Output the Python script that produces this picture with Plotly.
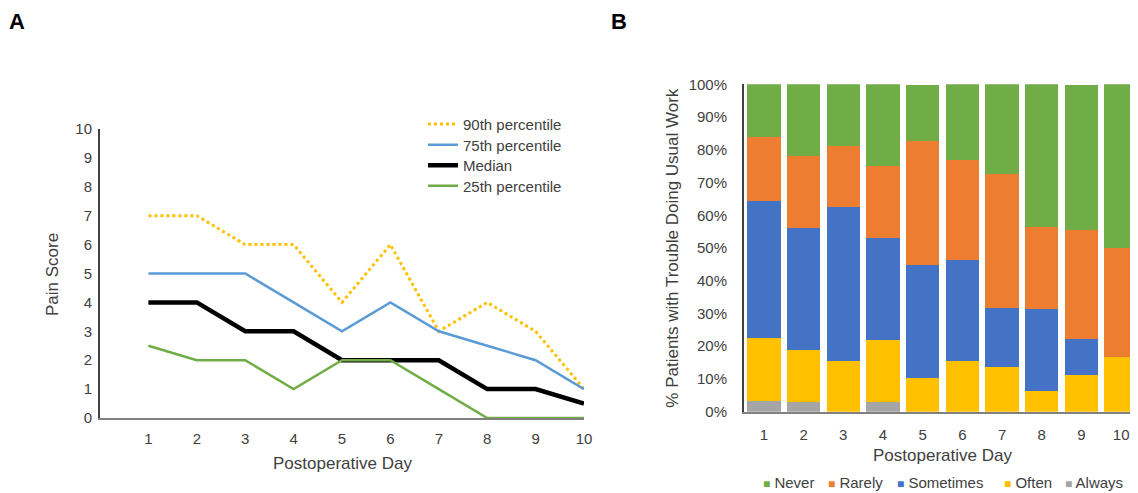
import plotly.graph_objects as go

# ---------------- data ----------------
days = [1, 2, 3, 4, 5, 6, 7, 8, 9, 10]

# Panel A: pain score percentiles
p90 = [7, 7, 6, 6, 4, 6, 3, 4, 3, 1]
p75 = [5, 5, 5, 4, 3, 4, 3, 2.5, 2, 1]
median = [4, 4, 3, 3, 2, 2, 2, 1, 1, 0.5]
p25 = [2.5, 2, 2, 1, 2, 2, 1, 0, 0, 0]

# Panel B: % patients with trouble doing usual work (segment shares, %)
always = [3.2, 3.1, 0, 3.1, 0, 0, 0, 0, 0, 0]
often = [19.4, 15.6, 15.6, 18.8, 10.3, 15.4, 13.6, 6.3, 11.1, 16.7]
sometimes = [41.9, 37.5, 46.9, 31.3, 34.5, 30.8, 18.2, 25.0, 11.1, 0]
rarely = [19.4, 21.9, 18.8, 21.9, 37.9, 30.8, 40.9, 25.0, 33.3, 33.3]
never = [16.1, 21.9, 18.8, 25.0, 17.2, 23.1, 27.3, 43.8, 44.4, 50.0]

# page body has an 8px margin, so the figure starts at (8, 8)
OFF = 8
W, H = 1134, 485
FONT = "Liberation Sans, Arial, sans-serif"
TXT = "#404040"


def px(x):
    return min(max((x - OFF) / W, 0), 1)


def py(y):
    return min(max(1 - (y - OFF) / H, 0), 1)


fig = go.Figure()

# ---------------- panel A ----------------
line_series = [
    ("90th percentile", p90, "#FFC000", 3, "3px,3px", "legend"),
    ("75th percentile", p75, "#5B9BD5", 2.5, "solid", "legend2"),
    ("Median", median, "#000000", 4.5, "solid", "legend3"),
    ("25th percentile", p25, "#70AD47", 2.5, "solid", "legend4"),
]
for name, vals, color, width, dash, leg in line_series:
    fig.add_trace(go.Scatter(
        x=days, y=vals, mode="lines", name=name,
        line=dict(color=color, width=width, dash=dash),
        xaxis="x", yaxis="y", legend=leg, cliponaxis=False,
    ))

# ---------------- panel B ----------------
bar_series = [
    ("Always", always, "#A5A5A5"),
    ("Often", often, "#FFC000"),
    ("Sometimes", sometimes, "#4472C4"),
    ("Rarely", rarely, "#ED7D31"),
    ("Never", never, "#70AD47"),
]
for name, vals, color in bar_series:
    fig.add_trace(go.Bar(
        x=days, y=vals, name=name, marker=dict(color=color, line=dict(width=0)),
        xaxis="x2", yaxis="y2", showlegend=False,
    ))

layout_legends = {}
rowsA = [124.3, 145, 165.5, 186]
for leg, ry in zip(["legend", "legend2", "legend3", "legend4"], rowsA):
    layout_legends[leg] = dict(
        x=px(423), y=py(ry), xanchor="left", yanchor="middle",
        bgcolor="rgba(0,0,0,0)", borderwidth=0,
        font=dict(family=FONT, size=15, color=TXT),
    )

# legend of panel B (compact key, as in the original)
keyB = [("Never", "#70AD47", 762), ("Rarely", "#ED7D31", 827),
        ("Sometimes", "#4472C4", 896), ("Often", "#FFC000", 1003),
        ("Always", "#A5A5A5", 1064)]
key_annots = []
for name, color, x0 in keyB:
    key_annots.append(dict(
        text=f"<span style='color:{color};font-size:12px'>■</span> {name}",
        x=px(x0 - 1), y=py(482), xref="paper", yref="paper", showarrow=False,
        xanchor="left", yanchor="middle",
        font=dict(family=FONT, size=15, color=TXT),
    ))

fig.update_layout(
    width=W, height=H,
    margin=dict(l=0, r=0, t=0, b=0, pad=0, autoexpand=False),
    paper_bgcolor="white", plot_bgcolor="white",
    font=dict(family=FONT, size=15, color=TXT),
    barmode="stack", bargap=0.16,
    showlegend=True,
    xaxis=dict(
        domain=[px(100), px(584)], range=[0, 10],
        tickvals=days, ticktext=[str(d) for d in days],
        showline=True, linecolor="#808080", linewidth=2,
        showgrid=False, zeroline=False,
        ticks="outside", ticklen=6, tickcolor="rgba(0,0,0,0)",
        tickfont=dict(family=FONT, size=15, color=TXT),
        layer="below traces", anchor="y",
    ),
    yaxis=dict(
        domain=[py(418), py(129)], range=[0, 10], dtick=1,
        showline=True, linecolor="#404040", linewidth=2,
        showgrid=False, zeroline=False,
        ticks="outside", ticklen=3, tickcolor="rgba(0,0,0,0)",
        tickfont=dict(family=FONT, size=15, color=TXT),
        layer="below traces", anchor="x",
    ),
    xaxis2=dict(
        domain=[px(744), px(1141)], range=[0.5, 10.5],
        tickvals=days, ticktext=[str(d) for d in days],
        showline=True, linecolor="#808080", linewidth=2,
        showgrid=False, zeroline=False,
        ticks="outside", ticklen=8, tickcolor="rgba(0,0,0,0)",
        tickfont=dict(family=FONT, size=15, color=TXT),
        anchor="y2",
    ),
    yaxis2=dict(
        domain=[py(411.7), py(84.3)], range=[0, 100], dtick=10,
        ticksuffix="%",
        showline=True, linecolor="#404040", linewidth=2,
        showgrid=False, zeroline=False,
        ticks="outside", ticklen=12, tickcolor="rgba(0,0,0,0)",
        tickfont=dict(family=FONT, size=15, color=TXT),
        anchor="x2",
    ),
    annotations=[
        dict(text="<b>A</b>", x=px(16.5), y=1, xref="paper", yref="paper",
             showarrow=False, font=dict(family=FONT, size=22, color="#000000"),
             xanchor="center", yanchor="top", borderpad=0),
        dict(text="<b>B</b>", x=px(619), y=1, xref="paper", yref="paper",
             showarrow=False, font=dict(family=FONT, size=22, color="#000000"),
             xanchor="center", yanchor="top", borderpad=0),
        dict(text="Postoperative Day", x=px(342), y=py(463), xref="paper", yref="paper",
             showarrow=False, font=dict(family=FONT, size=17, color=TXT),
             xanchor="center", yanchor="middle"),
        dict(text="Pain Score", x=px(52), y=py(275), xref="paper", yref="paper",
             showarrow=False, textangle=-90, font=dict(family=FONT, size=17, color=TXT),
             xanchor="center", yanchor="middle"),
        dict(text="Postoperative Day", x=px(942), y=py(455), xref="paper", yref="paper",
             showarrow=False, font=dict(family=FONT, size=17, color=TXT),
             xanchor="center", yanchor="middle"),
        dict(text="% Patients with Trouble Doing Usual Work", x=px(671.7), y=py(248),
             xref="paper", yref="paper", showarrow=False, textangle=-90,
             font=dict(family=FONT, size=17, color=TXT),
             xanchor="center", yanchor="middle"),
    ] + key_annots,
    **layout_legends,
)

fig.write_html("out.html")
